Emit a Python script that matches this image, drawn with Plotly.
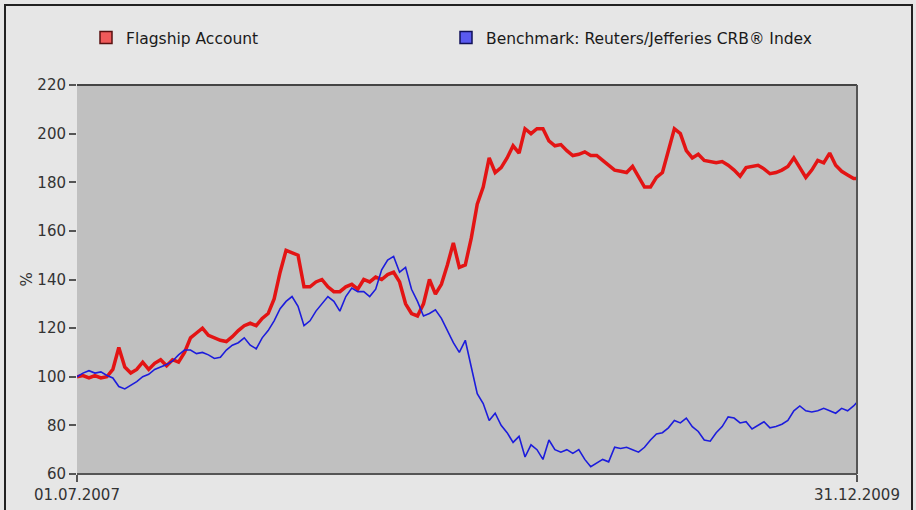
import pandas as pd
import plotly.graph_objects as go

# weekly observations from 01.07.2007, plus final value on 31.12.2009
start_date = "2007-07-01"
end_date = "2009-12-31"

flagship = [100, 100.5, 99.5, 100.5, 99.5, 100, 103, 112, 104, 101.5,
            103, 106, 103, 105.5, 107, 104.5, 107, 106, 110, 116,
            118, 120, 117, 116, 115, 114.5, 116.5, 119, 121, 122,
            121, 124, 126, 132, 143, 152, 151, 150, 137, 137,
            139, 140, 137, 135, 135, 137, 138, 136, 140, 139,
            141, 140, 142, 143, 139, 130, 126, 125, 130, 140,
            134, 138, 146, 155, 145, 146, 157, 171, 178, 190,
            184, 186, 190, 195, 192, 202, 200, 202, 202, 197,
            195, 195.5, 193, 191, 191.5, 192.5, 191, 191, 189, 187,
            185, 184.5, 184, 186.5, 182, 178, 178, 182, 184, 193,
            202, 200, 193, 190, 191.5, 189, 188.5, 188, 188.5, 187,
            185, 182.5, 186, 186.5, 187, 185.5, 183.5, 184, 185, 186.5,
            190, 186, 182, 185, 189, 188, 192, 187, 184.5, 183,
            181.5, 181.5]

benchmark = [100, 101.5, 102.5, 101.5, 102, 100.5, 99.5, 96, 95, 96.5,
             98, 100, 101, 103, 104, 105, 106.5, 109, 111, 111,
             109.5, 110, 109, 107.5, 108, 111, 113, 114, 116, 113,
             111.5, 116, 119, 123, 128, 131, 133, 129, 121, 123,
             127, 130, 133, 131, 127, 133, 136.5, 135, 135, 133,
             136, 144, 148, 149.5, 143, 145, 136, 131, 125, 126,
             127.5, 124, 119, 114, 110, 115, 104, 93, 89, 82,
             85, 80, 77, 73, 75.5, 67, 72, 70, 66, 74,
             70, 69, 70, 68.5, 70, 66, 63, 64.5, 66, 65,
             71, 70.5, 71, 70, 69, 71, 74, 76.5, 77, 79,
             82, 81, 83, 79.5, 77.5, 74, 73.5, 77, 79.5, 83.5,
             83, 81, 81.5, 78.5, 80, 81.5, 79, 79.5, 80.5, 82,
             86, 88, 86, 85.5, 86, 87, 86, 85, 87, 86,
             88, 89.5]

series_names = ["Flagship Account", "Benchmark: Reuters/Jefferies CRB® Index"]
y_ticks = [60, 80, 100, 120, 140, 160, 180, 200, 220]
x_tick_text = ["01.07.2007", "31.12.2009"]
y_title = "%"

dates = list(pd.date_range(start_date, periods=len(flagship) - 1, freq="7D")) + [pd.Timestamp(end_date)]

fig = go.Figure()
fig.add_trace(go.Scatter(x=dates, y=flagship, mode="lines",
                         line=dict(color="#e31414", width=3.5), showlegend=False))
fig.add_trace(go.Scatter(x=dates, y=benchmark, mode="lines",
                         line=dict(color="#1c1cdc", width=1.6), showlegend=False))
# legend entries with square swatches
fig.add_trace(go.Scatter(x=[None], y=[None], mode="markers", name=series_names[0],
                         legendwidth=315,
                         marker=dict(symbol="square", size=12, color="#f05a5a",
                                     line=dict(color="#5a1010", width=1.5))))
fig.add_trace(go.Scatter(x=[None], y=[None], mode="markers", name=series_names[1],
                         legendwidth=330,
                         marker=dict(symbol="square", size=12, color="#5a5af0",
                                     line=dict(color="#10105a", width=1.5))))

font_main = "DejaVu Sans, Verdana, sans-serif"
fig.update_layout(
    width=916, height=510,
    margin=dict(l=77, r=59, t=85, b=36, autoexpand=False),
    paper_bgcolor="#e6e6e6",
    plot_bgcolor="#c0c0c0",
    font=dict(family=font_main, size=15, color="#333333"),
    legend=dict(orientation="h", xref="container", yref="container",
                x=86 / 916, y=1 - 38 / 510, xanchor="left", yanchor="middle",
                font=dict(size=15.5, color="#1a1a1a"), bgcolor="rgba(0,0,0,0)"),
    xaxis=dict(type="date", range=[start_date, end_date], automargin=False,
               tickvals=[start_date, end_date], ticktext=x_tick_text,
               ticks="outside", ticklen=7, tickwidth=2, tickcolor="#555555",
               showgrid=False, zeroline=False, showline=False,
               tickfont=dict(size=15, color="#333333")),
    yaxis=dict(range=[60, 220], tickvals=y_ticks, automargin=False,
               ticks="outside", ticklen=7, tickwidth=2, tickcolor="#555555",
               showgrid=False, zeroline=False, showline=False,
               tickfont=dict(size=15, color="#333333")),
    annotations=[
        dict(text=y_title, xref="paper", yref="paper", x=-51 / 780, y=0.5,
             xanchor="center", yanchor="middle", showarrow=False, textangle=-90,
             font=dict(size=15, color="#333333")),
    ],
    shapes=[
        dict(type="line", xref="paper", yref="paper", x0=0, x1=1, y0=1, y1=1,
             line=dict(color="#444444", width=2)),
        dict(type="line", xref="paper", yref="paper", x0=0, x1=1, y0=0, y1=0,
             line=dict(color="#555555", width=2)),
        dict(type="line", xref="paper", yref="paper", x0=1, x1=1, y0=0, y1=1,
             line=dict(color="#555555", width=2)),
        dict(type="rect", xref="paper", yref="paper",
             x0=-72 / 780, x1=835 / 780, y0=-60 / 389, y1=(389 + 80) / 389,
             line=dict(color="#222222", width=2), layer="below"),
    ],
)

fig.write_html("out.html", config={"displayModeBar": False},
               post_script="document.body.style.margin='0';document.body.style.overflow='hidden';document.body.style.background='#e6e6e6';")
